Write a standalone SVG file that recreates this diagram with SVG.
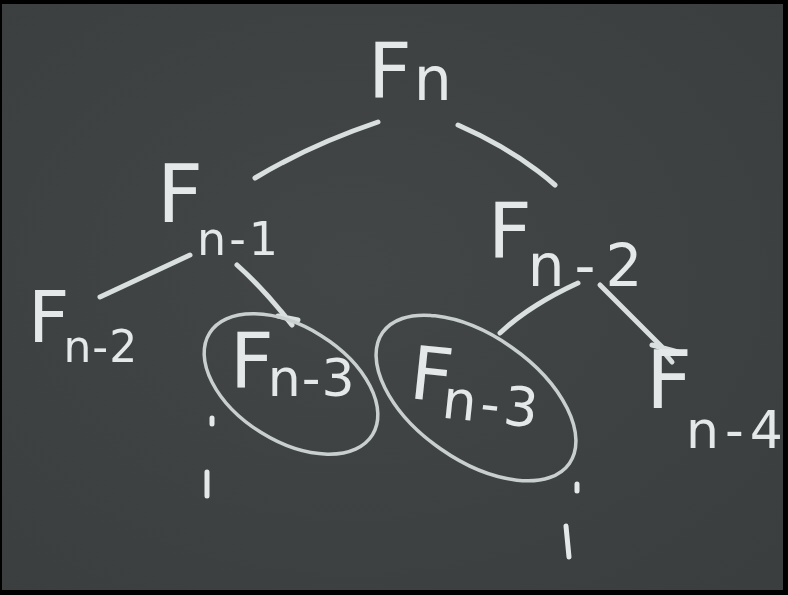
<svg xmlns="http://www.w3.org/2000/svg" width="788" height="595" viewBox="0 0 788 595">
<defs>
<radialGradient id="bg" cx="0.45" cy="0.45" r="0.75">
<stop offset="0" stop-color="#424647"/>
<stop offset="1" stop-color="#3a3e3f"/>
</radialGradient>
<filter id="soft" x="-5%" y="-5%" width="110%" height="110%"><feGaussianBlur stdDeviation="0.7"/></filter>
</defs>
<style>
.chalk{fill:#e4e8e8;font-family:"DejaVu Sans","Liberation Sans",sans-serif;font-weight:normal}
.line{fill:none;stroke:#d9dede;stroke-width:5;stroke-linecap:round;stroke-linejoin:round}
.oval{fill:none;stroke:#c9cfcf;stroke-width:3.5}
.dot{fill:none;stroke:#e4e8e8;stroke-width:5;stroke-linecap:round}
</style>
<rect width="788" height="595" fill="#000"/>
<rect x="2" y="4" width="781" height="586" fill="url(#bg)"/>
<g filter="url(#soft)">
<g id="connectors">
<path class="line" d="M378,122 Q310,145 255,178"/>
<path class="line" d="M458,125 Q515,150 555,185"/>
<path class="line" d="M190,255 L100,297"/>
<path class="line" d="M237,265 Q265,290 292,325 M278,316 L298,320"/>
<path class="line" d="M578,283 Q530,305 500,333"/>
<path class="line" d="M600,285 L665,350 M652,345 L678,352 M662,350 L672,362"/>
</g>
<g id="n_Fn"><text class="chalk" x="368" y="98" font-size="76">F<tspan font-size="60" dy="2" dx="2">n</tspan></text></g>
<g id="n_Fn1"><text class="chalk" x="157" y="222" font-size="80">F<tspan font-size="46" dy="33" dx="-6" letter-spacing="3">n-1</tspan></text></g>
<g id="n_Fn2r"><text class="chalk" x="488" y="258" font-size="76">F<tspan font-size="58" dy="28" dx="-4" letter-spacing="10">n-2</tspan></text></g>
<g id="n_Fn2l"><text class="chalk" x="28" y="342" font-size="72">F<tspan font-size="44" dy="20" dx="-6" letter-spacing="1">n-2</tspan></text></g>
<g id="n_Fn3a">
<ellipse class="oval" cx="291" cy="384" rx="96" ry="57" transform="rotate(32 291 384)"/>
<text class="chalk" x="230" y="388" font-size="76">F<tspan font-size="52" dy="8" dx="-6" letter-spacing="1">n-3</tspan></text>
</g>
<g id="n_Fn3b">
<ellipse class="oval" cx="476" cy="398" rx="114" ry="62" transform="rotate(35 476 398)"/>
<text class="chalk" x="408" y="398" font-size="74" transform="rotate(6 408 398)">F<tspan font-size="54" dy="16" dx="-8" letter-spacing="4">n-3</tspan></text>
</g>
<g id="n_Fn4"><text class="chalk" x="646" y="408" font-size="80">F<tspan font-size="52" dy="40" dx="-6" letter-spacing="6">n-4</tspan></text></g>
<g id="dots">
<path class="dot" d="M212,418 L212,424 M207,472 L207,496 M577,484 L577,491 M566,526 L569,557"/>
</g>
</g>
</svg>
